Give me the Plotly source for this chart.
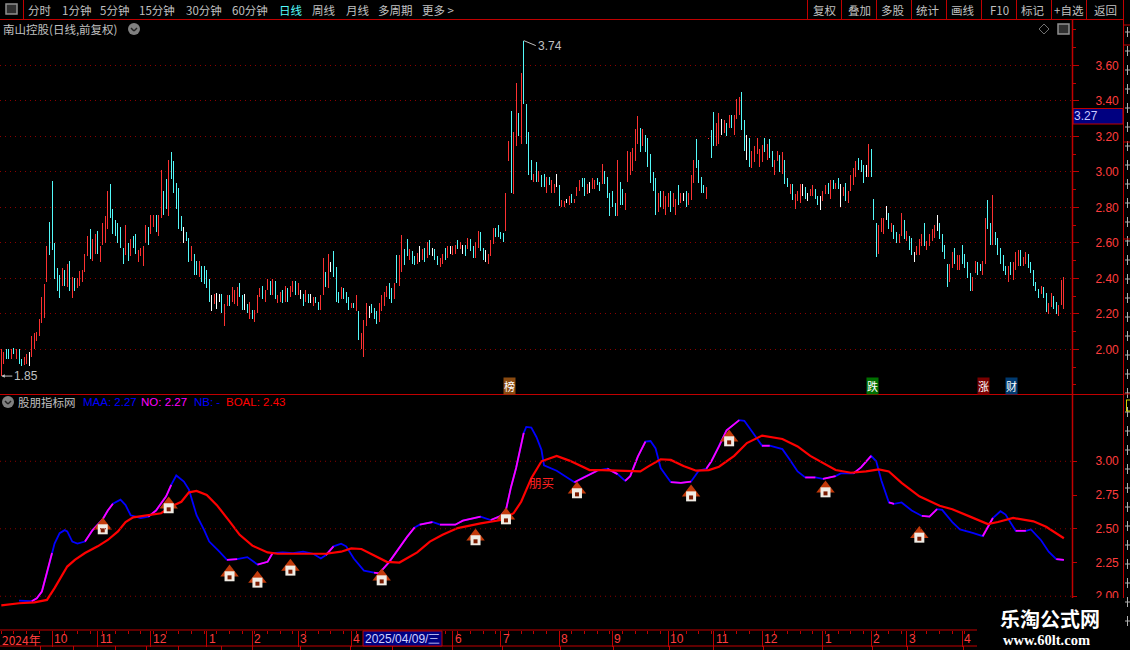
import plotly.graph_objects as go

# daily bars: high, low and colour of each bar (r up, c down, w flat)
bar_high = [
    2.00, 1.985, 2.00, 2.00, 2.00, 2.01, 2.00, 2.00, 1.945, 1.96, 1.975, 1.985, 2.075, 2.09, 2.10, 2.17, 2.295, 2.37, 2.58, 2.72,
    2.95, 2.60, 2.46, 2.42, 2.46, 2.45, 2.48, 2.50, 2.41, 2.40, 2.40, 2.44, 2.45, 2.54, 2.64, 2.68, 2.62, 2.65, 2.67, 2.58,
    2.71, 2.75, 2.89, 2.93, 2.79, 2.73, 2.71, 2.69, 2.57, 2.70, 2.60, 2.62, 2.64, 2.65, 2.56, 2.57, 2.58, 2.70, 2.69, 2.76,
    2.76, 2.76, 2.76, 3.01, 2.89, 2.96, 3.07, 3.11, 3.06, 2.94, 2.91, 2.75, 2.69, 2.66, 2.63, 2.58, 2.54, 2.50, 2.50, 2.47,
    2.47, 2.45, 2.395, 2.305, 2.31,
    2.32, 2.31, 2.31, 2.255, 2.305, 2.305, 2.35, 2.335, 2.35, 2.375, 2.305, 2.31, 2.255, 2.27, 2.22, 2.22, 2.305, 2.345, 2.36, 2.335,
    2.395, 2.385, 2.395, 2.385, 2.305, 2.325, 2.335, 2.36, 2.345, 2.36, 2.385, 2.385, 2.375, 2.335, 2.31, 2.335, 2.31, 2.31, 2.295, 2.295,
    2.27, 2.305, 2.515, 2.435, 2.54, 2.49, 2.555, 2.465, 2.325, 2.35, 2.345, 2.325, 2.295, 2.26, 2.26, 2.305, 2.215, 2.09, 2.165, 2.26,
    2.245, 2.255, 2.235, 2.215, 2.26, 2.305, 2.325, 2.36, 2.375, 2.345, 2.375, 2.53, 2.53, 2.645, 2.565, 2.62, 2.565, 2.555, 2.525, 2.545,
    2.58, 2.565, 2.57, 2.605, 2.615,
    2.57, 2.565, 2.525, 2.515, 2.54, 2.57, 2.58, 2.58, 2.58, 2.59, 2.615, 2.605, 2.59, 2.59, 2.63, 2.62, 2.58, 2.605, 2.67, 2.66,
    2.57, 2.56, 2.54, 2.615, 2.685, 2.685, 2.70, 2.66, 2.655, 2.88, 3.175, 3.345, 3.225, 3.50, 3.33, 3.56, 3.74, 3.38, 3.225, 3.07,
    2.99, 3.055, 3.005, 2.98, 2.99, 2.97, 2.97, 2.955, 2.93, 2.99, 2.925, 2.84, 2.835, 2.85, 2.865, 2.875, 2.85, 2.915, 2.955, 2.965,
    2.965, 2.93, 2.945, 2.965, 2.955, 2.965, 2.945, 3.045, 3.005, 2.97, 2.88, 2.89, 2.825, 3.07, 2.945, 2.905, 2.88, 3.12, 3.11, 3.135,
    3.24, 3.315, 3.25, 3.24,
    3.21, 3.19, 3.10, 3.00, 2.965, 2.88, 2.89, 2.89, 2.865, 2.88, 2.89, 2.88, 2.85, 2.925, 2.88, 2.88, 2.89, 2.88, 2.98, 3.07,
    3.185, 3.07, 2.97, 2.925, 2.915, 3.19, 3.235, 3.34, 3.275, 3.33, 3.30, 3.29, 3.275, 3.32, 3.32, 3.32, 3.41, 3.42, 3.45, 3.29,
    3.21, 3.19, 3.12, 3.145, 3.19, 3.13, 3.15, 3.19, 3.16, 3.185, 3.12, 3.07, 3.12, 3.095, 3.11, 3.07, 2.965, 2.93, 2.93, 2.875,
    2.89, 2.93, 2.93, 2.915, 2.88, 2.905, 2.925, 2.905, 2.865, 2.865, 2.89, 2.925, 2.94, 2.955, 2.955, 2.94, 2.965, 2.93, 2.915, 2.94,
    2.89, 2.98, 3.02, 3.06, 3.08,
    3.07, 3.04, 3.04, 3.16, 3.13, 2.85, 2.71, 2.70, 2.74, 2.74, 2.81, 2.77, 2.71, 2.70, 2.66, 2.65, 2.77, 2.73, 2.67, 2.64,
    2.63, 2.55, 2.58, 2.62, 2.65, 2.71, 2.61, 2.65, 2.68, 2.70, 2.76, 2.71, 2.65, 2.59, 2.48, 2.48, 2.55, 2.57, 2.53, 2.53,
    2.59, 2.54, 2.49, 2.43, 2.41, 2.50, 2.49, 2.48, 2.50, 2.74, 2.84, 2.71, 2.87, 2.66, 2.63, 2.57, 2.53, 2.47, 2.47, 2.49,
    2.49, 2.55, 2.56, 2.56, 2.52, 2.55, 2.54, 2.49, 2.45, 2.38, 2.34, 2.36, 2.35, 2.32, 2.26, 2.32, 2.30, 2.27, 2.25, 2.39,
    2.41,
]
bar_low = [
    1.85, 1.92, 1.945, 1.945, 1.945, 1.975, 1.945, 1.92, 1.905, 1.91, 1.92, 1.905, 1.96, 2.00, 2.05, 2.075, 2.15, 2.18, 2.38, 2.53,
    2.56, 2.395, 2.33, 2.29, 2.36, 2.36, 2.35, 2.33, 2.29, 2.33, 2.345, 2.36, 2.38, 2.435, 2.525, 2.51, 2.50, 2.54, 2.54, 2.49,
    2.59, 2.60, 2.68, 2.74, 2.65, 2.64, 2.60, 2.57, 2.48, 2.53, 2.50, 2.525, 2.57, 2.54, 2.49, 2.525, 2.47, 2.60, 2.59, 2.65,
    2.69, 2.66, 2.64, 2.74, 2.76, 2.79, 2.75, 2.96, 2.88, 2.79, 2.68, 2.67, 2.60, 2.61, 2.49, 2.50, 2.42, 2.42, 2.41, 2.38,
    2.37, 2.345, 2.27, 2.215, 2.255,
    2.23, 2.27, 2.205, 2.13, 2.245, 2.245, 2.27, 2.255, 2.245, 2.295, 2.22, 2.225, 2.205, 2.17, 2.17, 2.155, 2.205, 2.295, 2.285, 2.27,
    2.335, 2.305, 2.305, 2.285, 2.26, 2.27, 2.26, 2.27, 2.27, 2.295, 2.325, 2.305, 2.305, 2.285, 2.245, 2.27, 2.26, 2.26, 2.245, 2.26,
    2.22, 2.22, 2.305, 2.35, 2.345, 2.435, 2.41, 2.27, 2.26, 2.285, 2.285, 2.26, 2.22, 2.235, 2.235, 2.215, 2.055, 2.00, 1.96, 2.13,
    2.18, 2.205, 2.17, 2.145, 2.155, 2.215, 2.245, 2.295, 2.285, 2.26, 2.285, 2.375, 2.36, 2.435, 2.475, 2.525, 2.505, 2.48, 2.475, 2.48,
    2.49, 2.505, 2.49, 2.515, 2.53,
    2.525, 2.505, 2.475, 2.465, 2.48, 2.505, 2.515, 2.54, 2.53, 2.54, 2.565, 2.565, 2.54, 2.525, 2.565, 2.555, 2.515, 2.515, 2.57, 2.555,
    2.505, 2.49, 2.48, 2.525, 2.595, 2.635, 2.635, 2.62, 2.605, 2.67, 3.06, 2.88, 2.875, 3.145, 3.20, 3.16, 3.38, 3.16, 2.98, 2.955,
    2.945, 2.945, 2.945, 2.915, 2.915, 2.88, 2.925, 2.88, 2.88, 2.915, 2.81, 2.80, 2.80, 2.825, 2.815, 2.825, 2.825, 2.865, 2.89, 2.915,
    2.865, 2.875, 2.88, 2.905, 2.905, 2.925, 2.89, 2.93, 2.93, 2.855, 2.75, 2.80, 2.75, 2.75, 2.815, 2.815, 2.785, 2.945, 2.98, 3.005,
    3.06, 3.16, 3.11, 3.145,
    3.11, 3.03, 2.94, 2.89, 2.76, 2.775, 2.80, 2.79, 2.755, 2.80, 2.775, 2.80, 2.755, 2.815, 2.825, 2.835, 2.80, 2.815, 2.84, 2.94,
    3.02, 2.94, 2.88, 2.88, 2.85, 3.185, 3.08, 3.145, 3.145, 3.16, 3.21, 3.22, 3.20, 3.25, 3.25, 3.21, 3.30, 3.32, 3.235, 3.12,
    3.07, 3.03, 3.02, 3.055, 3.10, 3.03, 3.055, 3.11, 3.07, 3.08, 3.03, 2.98, 3.06, 3.00, 2.99, 2.93, 2.915, 2.875, 2.84, 2.79,
    2.835, 2.825, 2.865, 2.85, 2.835, 2.865, 2.865, 2.85, 2.815, 2.785, 2.835, 2.875, 2.875, 2.85, 2.905, 2.905, 2.905, 2.80, 2.865, 2.835,
    2.825, 2.89, 2.925, 2.97, 3.01,
    3.00, 2.94, 2.97, 2.97, 2.97, 2.73, 2.52, 2.54, 2.66, 2.65, 2.73, 2.68, 2.66, 2.62, 2.60, 2.60, 2.64, 2.62, 2.61, 2.56,
    2.53, 2.49, 2.53, 2.53, 2.58, 2.58, 2.56, 2.58, 2.61, 2.63, 2.67, 2.62, 2.55, 2.51, 2.35, 2.38, 2.46, 2.48, 2.45, 2.45,
    2.48, 2.46, 2.40, 2.33, 2.33, 2.43, 2.42, 2.44, 2.42, 2.48, 2.68, 2.59, 2.59, 2.59, 2.53, 2.48, 2.44, 2.42, 2.38, 2.42,
    2.39, 2.45, 2.47, 2.47, 2.47, 2.48, 2.46, 2.43, 2.36, 2.33, 2.29, 2.31, 2.29, 2.21, 2.20, 2.24, 2.23, 2.20, 2.19, 2.25,
    2.23,
]
bar_kind = list(
    "rrccrcrccrrwrrrrrrrc" "ccccrcrcrcrrrrrcrrcr" "rrrccccccrcrccrrrrcr" "rcrrccrcccccwccrccrc" "cccwr"
    "wwcrrcrrrccwcrcrrrcr" "rcrcrrcrcrrcrwcrcwrc" "crrcrwcccrcccrcrcrrr" "wcccrrrrccrcrrccrccr" "wrcrc"
    "wccrrcrwrrcrwcrccrrc" "cwrrrccccrrcrrcrcccc" "rcrccrcrrwcrrwrcrrrc" "crwrrccrcccccrccrrrr" "rrcr"
    "cccccrcrrrcrrcrwcrrr" "ccccrrccrrwrcrcrrrcc" "wcrrrrrcrccrrcrccrcr" "rrwcwrrccwrrcrcrcwrc" "rrrrc"
    "ccwrcccrrrwcrccrrcrc" "cwrrrcrrrrwccccrrcrr" "ccccrrccrrccrcccccrc" "rrrcrrcccccrccrrccrrr"
)

price_ticks = [2.0, 2.2, 2.4, 2.6, 2.8, 3.0, 3.2, 3.4, 3.6]
lower_ticks = [2.0, 2.25, 2.5, 2.75, 3.0]
lower_grid = [2.0, 2.5, 3.0]

# indicator lines, read at visible turning points
maa_idx = [
    7, 12, 14, 16, 18, 20, 21, 23, 25, 26, 28, 30, 33, 36, 40, 42, 44, 47, 49, 51, 55, 58, 61, 65, 67, 69, 72, 74, 77, 80, 82, 86,
    89, 93, 97, 101, 105, 107, 111, 115, 119, 123, 126, 128, 131, 134, 136, 139, 143, 147, 149, 153, 157, 160, 163, 165, 170, 173,
    179, 182, 189, 193, 197, 199, 201, 203, 206, 207, 209, 211, 213, 214, 219, 223, 226, 229, 235, 239, 243, 246, 248, 251, 254,
    256, 258, 260, 264, 268, 272, 275, 278, 280, 283, 286, 291, 293, 297, 300, 303, 308, 311, 314, 317, 321, 324, 329, 331, 336,
    339, 343, 345, 347, 350, 352, 355, 359, 363, 366, 369, 371, 375, 378, 383, 387, 391, 394, 396, 400, 404, 406, 410, 413, 416, 419,
]
maa_val = [
    1.968, 1.963, 1.985, 2.035, 2.17, 2.32, 2.39, 2.467, 2.49, 2.48, 2.405, 2.39, 2.405, 2.49, 2.57, 2.635, 2.685, 2.715, 2.675, 2.60,
    2.58, 2.59, 2.635, 2.74, 2.825, 2.895, 2.85, 2.79, 2.60, 2.49, 2.405, 2.33, 2.27, 2.275, 2.29, 2.235, 2.255, 2.32, 2.325, 2.32,
    2.33, 2.315, 2.28, 2.305, 2.37, 2.39, 2.37, 2.28, 2.19, 2.175, 2.17, 2.255, 2.365, 2.44, 2.51, 2.53, 2.55, 2.53, 2.53, 2.56, 2.59,
    2.565, 2.595, 2.64, 2.81, 2.95, 3.21, 3.255, 3.25, 3.18, 3.085, 2.97, 2.93, 2.88, 2.845, 2.875, 2.93, 2.945, 2.905, 2.855, 2.89,
    3.035, 3.145, 3.15, 3.095, 2.95, 2.845, 2.84, 2.85, 2.93, 2.945, 3.0, 3.11, 3.23, 3.305, 3.30, 3.195, 3.115, 3.115, 3.09, 3.01,
    2.925, 2.88, 2.88, 2.87, 2.89, 2.91, 2.91, 2.955, 3.04, 3.0, 2.86, 2.695, 2.685, 2.695, 2.635, 2.595, 2.59, 2.645, 2.64, 2.55,
    2.495, 2.47, 2.445, 2.58, 2.63, 2.605, 2.485, 2.485, 2.495, 2.415, 2.33, 2.275, 2.27,
]
# stretches of MAA that the indicator paints as NO (magenta)
no_spans = [
    (12, 20), (33, 44), (58, 67), (89, 93), (101, 107), (128, 131), (147, 163), (165, 170), (173, 189), (193, 206), (226, 235),
    (239, 243), (246, 254), (264, 272), (278, 291), (300, 303), (317, 321), (324, 329), (336, 343), (350, 352), (363, 369),
    (387, 391), (400, 404), (416, 419),
]
boal_idx = [
    0, 7, 13, 18, 21, 26, 29, 33, 38, 42, 46, 49, 52, 57, 63, 67, 71, 74, 77, 81, 85, 90, 94, 99, 105, 109, 115, 122, 128, 134, 138,
    142, 147, 152, 157, 160, 164, 169, 174, 180, 189, 197, 202, 205, 209, 213, 219, 224, 232, 237, 244, 252, 255, 260, 264, 269, 274,
    279, 283, 289, 294, 300, 308, 314, 319, 324, 329, 335, 341, 346, 350, 355, 362, 370, 375, 382, 389, 393, 399, 407, 412, 419,
]
boal_val = [
    1.933, 1.948, 1.955, 1.973, 2.06, 2.22, 2.27, 2.32, 2.37, 2.417, 2.48, 2.55, 2.585, 2.60, 2.615, 2.665, 2.70, 2.77, 2.78, 2.75,
    2.675, 2.555, 2.455, 2.375, 2.325, 2.315, 2.315, 2.315, 2.315, 2.33, 2.355, 2.35, 2.305, 2.255, 2.25, 2.28, 2.325, 2.405, 2.455,
    2.505, 2.54, 2.565, 2.615, 2.70, 2.875, 3.0, 3.04, 3.005, 2.935, 2.935, 2.93, 2.925, 2.96, 3.015, 3.01, 2.965, 2.93, 2.935, 2.96,
    3.04, 3.135, 3.19, 3.165, 3.11, 3.04, 2.985, 2.935, 2.915, 2.925, 2.94, 2.925, 2.84, 2.74, 2.67, 2.645, 2.59, 2.535, 2.55, 2.58,
    2.555, 2.515, 2.43,
]
house_idx = [40, 66, 90, 101, 114, 150, 187, 199, 227, 272, 287, 325, 362]
house_val = [2.516, 2.672, 2.168, 2.121, 2.21, 2.138, 2.435, 2.59, 2.783, 2.76, 3.168, 2.79, 2.454]

month_idx = [20, 38, 59, 81, 99, 117, 138, 178, 197, 220, 241, 263, 281, 300, 324, 343, 357, 379]
month_text = ["10", "11", "12", "1", "2", "3", "4", "6", "7", "8", "9", "10", "11", "12", "1", "2", "3", "4"]

RED = "#c00000"
GRID = "#8c0000"
LABEL = "#ff3c3c"
GRAY = "#c0c0c0"
CJK = "Noto Sans CJK SC"
LATIN = "Liberation Sans"

W, H = 1130, 650
# alpha just under 1 makes plotly round bar edges to whole pixels instead of widening them
bar_colors = {"r": "rgba(255,50,50,0.99)", "c": "rgba(84,252,252,0.99)", "w": "rgba(255,255,255,0.99)"}


def px(x):
    return x / W


def py(y):
    return 1 - y / H


annotations = []
shapes = []


def note(x, y, text, color=GRAY, size=11.5, anchor="left", font=CJK, **kw):
    # annotations carry a small built in pad, pull left aligned text back over it
    if anchor == "left":
        x = x - 2
    annotations.append(dict(x=px(x), y=py(y), xref="paper", yref="paper", text=text, showarrow=False,
                            xanchor=anchor, yanchor="middle", font=dict(color=color, size=size, family=font), **kw))


def rule(x0, y0, x1, y1, color=RED, width=1):
    shapes.append(dict(type="line", xref="paper", yref="paper", x0=px(x0), y0=py(y0), x1=px(x1), y1=py(y1),
                       line=dict(color=color, width=width), layer="above"))


def icon_circle(x, y):
    shapes.append(dict(type="circle", xref="paper", yref="paper", x0=px(x - 6), x1=px(x + 6), y0=py(y - 6), y1=py(y + 6),
                       fillcolor="#808080", line=dict(width=0), layer="above"))
    rule(x - 3, y - 1, x, y + 2, "#222222", 1.5)
    rule(x, y + 2, x + 3, y - 1, "#222222", 1.5)


fig = go.Figure()
fig.add_trace(go.Bar(
    x=list(range(len(bar_high))),
    y=[h - l for h, l in zip(bar_high, bar_low)],
    base=bar_low,
    width=0.3943,  # one pixel at this x scale
    marker=dict(color=[bar_colors[k] for k in bar_kind], line=dict(width=0)),
    xaxis="x", yaxis="y",
))

fig.add_trace(go.Scatter(x=maa_idx, y=maa_val, mode="lines", line=dict(color="#0000ff", width=1.8), xaxis="x2", yaxis="y2"))
for start, end in no_spans:
    pts = [(i, v) for i, v in zip(maa_idx, maa_val) if start <= i <= end]
    fig.add_trace(go.Scatter(x=[p[0] for p in pts], y=[p[1] for p in pts], mode="lines",
                             line=dict(color="#ff00ff", width=1.8), xaxis="x2", yaxis="y2"))
fig.add_trace(go.Scatter(x=boal_idx, y=boal_val, mode="lines", line=dict(color="#ff0000", width=2.2), xaxis="x2", yaxis="y2"))

# house icons: roof, walls and door markers around each reading
fig.add_trace(go.Scatter(x=house_idx, y=[v + 0.008 for v in house_val], mode="markers",
                         marker=dict(symbol="triangle-up", size=16, color="#c23a0a"), xaxis="x2", yaxis="y2"))
fig.add_trace(go.Scatter(x=house_idx, y=[v - 0.02 for v in house_val], mode="markers",
                         marker=dict(symbol="square", size=10, color="#f0ece4"), xaxis="x2", yaxis="y2"))
fig.add_trace(go.Scatter(x=house_idx, y=[v - 0.028 for v in house_val], mode="markers",
                         marker=dict(symbol="square", size=4, color="#7a1a00"), xaxis="x2", yaxis="y2"))

# toolbar
rule(0, 19.5, 1123, 19.5)
rule(23.5, 0, 23.5, 19)
shapes.append(dict(type="rect", xref="paper", yref="paper", x0=px(6), x1=px(17), y0=py(4), y1=py(14),
                   line=dict(color="#909090", width=1.5), fillcolor="#303030", layer="above"))
for x, label, color in [(28, "分时", GRAY), (62, "1分钟", GRAY), (100, "5分钟", GRAY), (139, "15分钟", GRAY),
                        (186, "30分钟", GRAY), (232, "60分钟", GRAY), (279, "日线", "#54fcfc"), (312, "周线", GRAY),
                        (346, "月线", GRAY), (378, "多周期", GRAY), (422, "更多 >", GRAY)]:
    note(x, 10, label, color=color)
for x in [807, 841, 876, 911, 946, 981, 1016, 1051, 1086, 1123]:
    rule(x + 0.5, 0, x + 0.5, 19)
for x, label in [(825, "复权"), (859, "叠加"), (893, "多股"), (928, "统计"), (963, "画线"), (999, "F10"),
                 (1033, "标记"), (1069, "+自选"), (1105, "返回")]:
    note(x, 10, label, anchor="center")

# price panel header and icons
note(3, 29, "南山控股(日线,前复权)")
icon_circle(134, 29)
shapes.append(dict(type="path", xref="paper", yref="paper", layer="above", line=dict(color="#707070", width=1),
                   path=f"M {px(1039)} {py(29)} L {px(1044)} {py(24)} L {px(1049)} {py(29)} L {px(1044)} {py(34)} Z"))
shapes.append(dict(type="rect", xref="paper", yref="paper", x0=px(1058), x1=px(1069), y0=py(24), y1=py(34),
                   line=dict(color="#909090", width=1.5), fillcolor="#303030", layer="above"))

# high and low flags
annotations.append(dict(x=206, y=3.74, xref="x", yref="y", text="3.74", showarrow=True, arrowhead=0, arrowwidth=1,
                        arrowcolor=GRAY, ax=12, ay=5, xanchor="left", yanchor="middle",
                        font=dict(color=GRAY, size=12, family=LATIN)))
annotations.append(dict(x=0, y=1.85, xref="x", yref="y", text="1.85", showarrow=True, arrowhead=2, arrowsize=0.7, arrowwidth=1,
                        arrowcolor=GRAY, ax=11, ay=0, xanchor="left", yanchor="middle",
                        font=dict(color=GRAY, size=12, family=LATIN)))

# event badges
for x, label, bg in [(509.5, "榜", "#8a4a10"), (872.5, "跌", "#007000"), (983.5, "涨", "#7a0000"), (1011.5, "财", "#003a70")]:
    note(x, 386, label, color="#ffffff", size=11, anchor="center", bgcolor=bg, borderpad=0)

# current price box
shapes.append(dict(type="rect", xref="paper", yref="paper", x0=px(1073), x1=px(1123), y0=py(108.5), y1=py(124),
                   fillcolor="#000080", line=dict(color=RED, width=1), layer="above"))
note(1074, 116, "3.27", color="#c8c8ff", size=12, font=LATIN)

# panel frames
rule(0, 394.5, 1123, 394.5)
rule(1072.5, 20, 1072.5, 598, RED, 1.5)
rule(1123.5, 0, 1123.5, 650)
rule(0, 630, 977, 630)
rule(0, 646, 977, 646)
for x in [40, 73, 115, 146, 178, 221, 252, 300, 350, 392, 452, 502, 560, 613, 669, 713, 763, 822, 872, 907, 963]:
    rule(x + 0.5, 646, x + 0.5, 650)
for y in lower_grid:
    shapes.append(dict(type="line", xref="paper", yref="y2", x0=0, x1=px(1072), y0=y, y1=y,
                       line=dict(color=GRID, width=1, dash="1px,4px")))

# slivers of the side panel that the window cuts off
for y in range(32, 640, 19):
    rule(1125, y, 1130, y, "#b0b0b0")
    rule(1127.5, y - 5, 1127.5, y + 5, "#b0b0b0")
for y in [25, 45, 142, 239, 394]:
    rule(1124, y, 1130, y)
rule(1126, 400, 1130, 400, "#d0d000")
rule(1126.5, 400, 1126.5, 411, "#d0d000")
rule(1126, 411, 1130, 411, "#d0d000")

# indicator header
icon_circle(8, 402)
note(18, 402, "股朋指标网")
note(83, 402, "MAA: 2.27", color="#0000ff", font=LATIN)
note(141, 402, "NO: 2.27", color="#ff00ff", font=LATIN)
note(194, 402, "NB: -", color="#0000ff", font=LATIN)
note(226, 402, "BOAL: 2.43", color="#ff0000", font=LATIN)
annotations.append(dict(x=213, y=2.84, xref="x2", yref="y2", text="朋买", showarrow=False, xanchor="center",
                        font=dict(color="#ff2020", size=12.5, family=CJK)))

# date strip
note(2, 639, "2024年", color=LABEL, size=12)
for i, label in zip(month_idx, month_text):
    annotations.append(dict(x=i, y=py(639), xref="x2", yref="paper", text=label, showarrow=False, xanchor="left",
                            xshift=0, yanchor="middle", font=dict(color=LABEL, size=12, family=LATIN)))
shapes.append(dict(type="rect", xref="paper", yref="paper", x0=px(363), x1=px(442), y0=py(631), y1=py(646),
                   fillcolor="#000080", line=dict(color=RED, width=1), layer="above"))
note(365, 639, "2025/04/09/三", color="#d0d0ff", size=12, font=LATIN)

# watermark covers the corner
shapes.append(dict(type="rect", xref="paper", yref="paper", x0=px(977), x1=px(1124), y0=py(598), y1=py(650),
                   fillcolor="#000000", line=dict(width=0), layer="above"))
note(1050, 618, "<b>乐淘公式网</b>", color="#ffffff", size=20, anchor="center")
note(1046, 640, "<b>www.60lt.com</b>", color="#ffffff", size=14.5, anchor="center", font="Liberation Serif")

x_range = [-0.513, 422.2]
axis_x = dict(range=x_range, domain=[0, px(1072)], showgrid=False, zeroline=False)
fig.update_layout(
    width=W, height=H, autosize=False,
    margin=dict(l=0, r=0, t=0, b=0),
    paper_bgcolor="#000000", plot_bgcolor="#000000",
    showlegend=False, barmode="overlay", bargap=0,
    annotations=annotations, shapes=shapes,
    xaxis=dict(axis_x, anchor="y", visible=False),
    xaxis2=dict(axis_x, anchor="y2", showline=False, tickmode="array", tickvals=month_idx, showticklabels=False,
                ticks="outside", ticklen=16, tickcolor=RED, tickwidth=1,
                minor=dict(tickmode="linear", tick0=0, dtick=5, ticks="outside", ticklen=3, tickcolor=RED)),
    yaxis=dict(domain=[py(394), py(20)], range=[1.749, 3.856], side="right", anchor="x", tickmode="array",
               tickvals=price_ticks, ticktext=[f"{v:.2f}" for v in price_ticks], ticks="outside", ticklen=6,
               tickcolor=RED, ticklabelstandoff=14, tickfont=dict(color=LABEL, size=12, family=LATIN),
               showgrid=True, gridcolor=GRID, griddash="1px,4px", gridwidth=1, zeroline=False,
               minor=dict(tickmode="linear", tick0=2.0, dtick=0.1, ticks="outside", ticklen=3, tickcolor=RED, showgrid=False)),
    yaxis2=dict(domain=[py(630), py(395)], range=[1.75, 3.491], side="right", anchor="x2", tickmode="array",
                tickvals=lower_ticks, ticktext=[f"{v:.2f}" for v in lower_ticks], ticks="outside", ticklen=4,
                tickcolor=RED, ticklabelstandoff=16, tickfont=dict(color=LABEL, size=12, family=LATIN),
                showgrid=False, zeroline=False),
)

fig.write_html("out.html", config={"displayModeBar": False},
               post_script="document.body.style.margin='0';document.body.style.overflow='hidden';")
